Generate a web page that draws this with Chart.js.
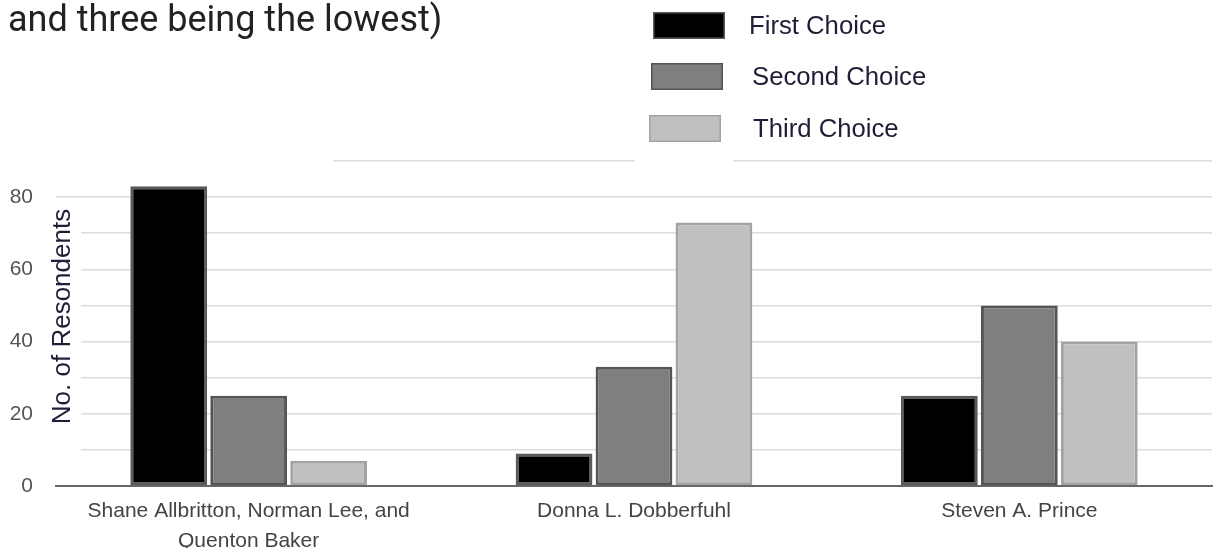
<!DOCTYPE html>
<html>
<head>
<meta charset="utf-8">
<script src="https://cdn.jsdelivr.net/npm/chart.js@4"></script>
<style>
  html, body { margin: 0; padding: 0; background: #ffffff; }
  #wrap { width: 1214px; height: 548px; }
</style>
</head>
<body>
<div id="wrap"><canvas id="c" width="1214" height="548"></canvas></div>
<script>
// ---- data ----
const chartTitle = 'and three being the lowest)';
const yAxisTitle = 'No. of Resondents';
const categories = [
  ['Shane Allbritton, Norman Lee, and', 'Quenton Baker'],
  'Donna L. Dobberfuhl',
  'Steven A. Prince'
];
const seriesNames = ['First Choice', 'Second Choice', 'Third Choice'];
const firstChoice = [83, 9, 25];
const secondChoice = [25, 33, 50];
const thirdChoice = [7, 73, 40];
const yTickLabels = [0, 20, 40, 60, 80];

// ---- styles ----
const fills = ['#000000', '#7f7f7f', '#c0c0c0'];
const borders = ['#5a5a5a', '#555555', '#a3a3a3'];

const decor = {
  id: 'decor',
  beforeDatasetsDraw(chart) {
    const ctx = chart.ctx;
    const a = chart.chartArea;
    ctx.save();
    ctx.fillStyle = '#ffffff';
    // gaps in the top gridline
    ctx.fillRect(0, a.top - 4, 333, 8);
    ctx.fillRect(635, a.top - 4, 98, 8);
    // white box behind the y-axis title
    ctx.fillRect(a.left - 4, 200, 81 - (a.left - 4), 275);
    ctx.restore();
  },
  afterDraw(chart) {
    const ctx = chart.ctx;
    const a = chart.chartArea;
    ctx.save();
    // title
    ctx.fillStyle = '#222222';
    ctx.font = '36px Roboto';
    ctx.textAlign = 'left';
    ctx.textBaseline = 'alphabetic';
    ctx.fillText(chartTitle, 8, 31);

    // y axis title
    ctx.save();
    ctx.translate(63, (a.top + a.bottom) / 2 - 7);
    ctx.rotate(-Math.PI / 2);
    ctx.font = '26px "Liberation Sans"';
    ctx.fillStyle = '#1e1e36';
    ctx.textAlign = 'center';
    ctx.textBaseline = 'middle';
    ctx.fillText(yAxisTitle, 0, 0);
    ctx.restore();

    // legend
    const boxX = [653, 651, 649];
    const boxY = [12, 63, 115];
    const textX = [749, 752, 753];
    chart.data.datasets.forEach((ds, i) => {
      ctx.fillStyle = ds.backgroundColor;
      ctx.fillRect(boxX[i], boxY[i], 72, 27);
      ctx.strokeStyle = ds.borderColor;
      ctx.lineWidth = 1.5;
      ctx.strokeRect(boxX[i] + 0.75, boxY[i] + 0.75, 70.5, 25.5);
      ctx.fillStyle = '#1e1e36';
      ctx.font = '25.7px "Liberation Sans"';
      ctx.textAlign = 'left';
      ctx.textBaseline = 'middle';
      ctx.fillText(ds.label, textX[i], boxY[i] + 15);
    });
    ctx.restore();
  }
};

function build() {
  const values = [firstChoice, secondChoice, thirdChoice];
  new Chart(document.getElementById('c'), {
    type: 'bar',
    data: {
      labels: categories,
      datasets: seriesNames.map((name, i) => ({
        label: name,
        data: values[i],
        backgroundColor: fills[i],
        borderColor: borders[i],
        borderWidth: 3,
        borderSkipped: false,
        barPercentage: 0.96,
        categoryPercentage: 0.6226
      }))
    },
    options: {
      responsive: false,
      animation: false,
      devicePixelRatio: 1,
      layout: { padding: { top: 161, left: 10, right: 2, bottom: 0 } },
      plugins: {
        legend: { display: false },
        title: { display: false },
        tooltip: { enabled: false }
      },
      scales: {
        x: {
          grid: { display: false },
          border: { display: true, color: '#666666', width: 2 },
          ticks: {
            font: { family: '"Liberation Sans"', size: 21, lineHeight: 1.43 },
            color: '#444444',
            padding: 2,
            maxRotation: 0,
            autoSkip: false
          },
          afterFit(scale) { scale.height = 62; }
        },
        y: {
          min: 0,
          max: 90,
          border: { display: false },
          grid: {
            color: '#dcdcdc',
            lineWidth: 1.5,
            drawTicks: false
          },
          ticks: {
            stepSize: 10,
            padding: 23,
            color: '#555555',
            font: { family: '"Liberation Sans"', size: 21 },
            callback: (v) => yTickLabels.includes(v) ? String(v) : ''
          },
          afterFit(scale) { scale.width = 46; }
        }
      }
    },
    plugins: [decor]
  });
}

const loads = [
  document.fonts.load('36px Roboto'),
  document.fonts.load('25px "Liberation Sans"'),
  document.fonts.load('21px "Liberation Sans"')
];
Promise.all(loads).then(build, build);
</script>
</body>
</html>
